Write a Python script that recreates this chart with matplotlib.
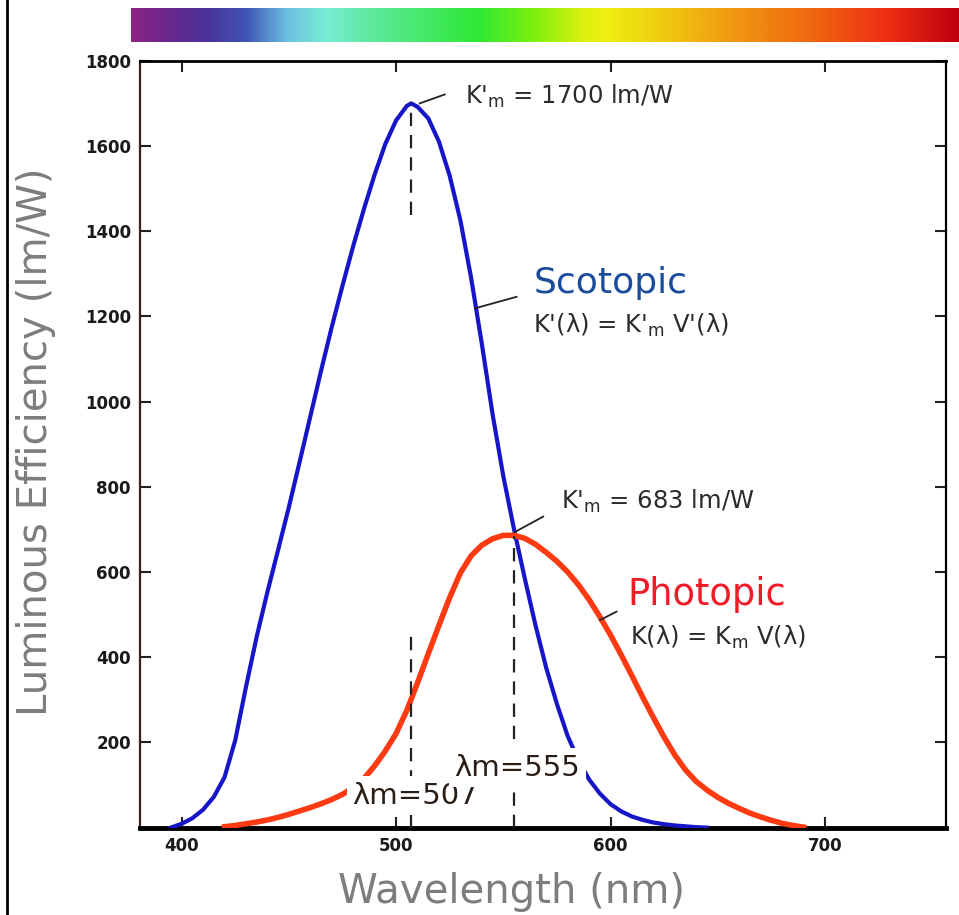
import numpy as np
import matplotlib
matplotlib.use("Agg")
import matplotlib.pyplot as plt
from matplotlib.colors import LinearSegmentedColormap
from matplotlib.lines import Line2D

# scotopic curve K'(lambda) (nm, lm/W)
scotopic_nm = [395, 400, 405, 410, 415, 420, 425, 430, 435, 440, 445, 450, 455, 460,
               465, 470, 475, 480, 485, 490, 495, 500, 505, 507, 510, 515, 520, 525,
               530, 535, 540, 545, 550, 555, 560, 565, 570, 575, 580, 585, 590, 595,
               600, 605, 610, 615, 620, 625, 630, 635, 640, 645]
scotopic_eff = [0, 9, 22, 42, 72, 118, 205, 330, 448, 553, 652, 752, 858, 965,
                1072, 1175, 1272, 1365, 1452, 1533, 1605, 1660, 1694, 1700, 1692, 1665, 1610, 1530,
                1425, 1290, 1135, 970, 825, 700, 585, 475, 375, 290, 215, 158, 113, 80,
                55, 38, 26, 18, 12, 8, 5, 3, 1, 0]

# photopic curve K(lambda)
photopic_nm = [420, 425, 430, 435, 440, 445, 450, 455, 460, 465, 470, 475, 480, 485,
               490, 495, 500, 505, 510, 515, 520, 525, 530, 535, 540, 545, 550, 555,
               560, 565, 570, 575, 580, 585, 590, 595, 600, 605, 610, 615, 620, 625,
               630, 635, 640, 645, 650, 655, 660, 665, 670, 675, 680, 685, 690]
photopic_eff = [2, 5, 9, 13, 18, 24, 31, 39, 47, 56, 66, 78, 94, 115,
                145, 180, 221, 275, 340, 408, 475, 540, 598, 638, 663, 678, 686, 686,
                679, 665, 646, 625, 600, 570, 535, 495, 452, 405, 356, 306, 258, 212,
                170, 135, 108, 88, 71, 57, 45, 34, 25, 17, 10, 5, 1]

x_ticks = [400, 500, 600, 700]
y_ticks = [200, 400, 600, 800, 1000, 1200, 1400, 1600, 1800]

peak_scotopic = 507
peak_photopic = 555
km_scotopic = 1700
km_photopic = 683

# spectrum strip at the top
strip_pos = [0.0, 0.086, 0.138, 0.188, 0.234, 0.286, 0.418, 0.484, 0.544,
             0.573, 0.648, 0.728, 0.817, 0.913, 1.0]
strip_colors = ['#8b2384', '#4b2f96', '#3f55b5', '#6cc0e0', '#78edd5', '#60e8a0',
                '#2ee836', '#7af00e', '#d8f010', '#eef010', '#f0c810', '#f09812',
                '#f06a10', '#ee3015', '#c0000e']

blue = '#1616c8'
red = '#fd3a12'
ink = '#222222'
grey = '#7d7d7d'

W, H = 959, 915
fig = plt.figure(figsize=(W / 100, H / 100), dpi=100)

# spectrum bar
cax = fig.add_axes([131 / W, 1 - 42 / H, (W - 131) / W, 34 / H])
cmap = LinearSegmentedColormap.from_list('spec', list(zip(strip_pos, strip_colors)))
cax.imshow(np.linspace(0, 1, 512)[None, :], aspect='auto', cmap=cmap)
cax.axis('off')

ax = fig.add_axes([140 / W, 1 - 827.6 / H, 806 / W, 766.8 / H])
ax.set_xlim(380.6, 756.4)
ax.set_ylim(0, 1800)

ax.plot(scotopic_nm, scotopic_eff, color=blue, lw=3.0, solid_joinstyle='round', zorder=3)
ax.plot(photopic_nm, photopic_eff, color=red, lw=4.0, solid_joinstyle='round', zorder=3)

# dashed markers at the peaks
dash = dict(color=ink, lw=1.6, linestyle=(0, (6, 4)), zorder=4)
ax.plot([peak_scotopic, peak_scotopic], [1437, km_scotopic], **dash)
ax.plot([peak_scotopic, peak_scotopic], [0, 450], **dash)
ax.plot([peak_photopic, peak_photopic], [0, 685], **dash)

# leader lines
lead = dict(color=ink, lw=1.3, zorder=4)
ax.plot([511, 522.7], [1700, 1721], **lead)
ax.plot([536.8, 556.2], [1219, 1246], **lead)
ax.plot([555.4, 568.6], [694, 730], **lead)
ax.plot([595, 602.8], [487, 507], **lead)

txt = dict(color='#2b2b2b', fontsize=17.5, va='baseline', ha='left', zorder=5)
ax.text(532, 1700, "K'$_\\mathregular{m}$ = %d lm/W" % km_scotopic, **txt)
ax.text(564, 1254, 'Scotopic', color='#1b4b9b', fontsize=26, va='baseline', ha='left')
ax.text(564, 1161, "K'(λ) = K'$_\\mathregular{m}$ V'(λ)", **txt)
ax.text(577, 748, "K'$_\\mathregular{m}$ = %d lm/W" % km_photopic, **txt)
ax.text(608, 522, 'Photopic', color='#f21a26', fontsize=26.5, va='baseline', ha='left')
ax.text(609, 428, 'K(λ) = K$_\\mathregular{m}$ V(λ)', **txt)

box = dict(facecolor='white', edgecolor='none', pad=4)
ax.text(508.9, 75, 'λm=%d' % peak_scotopic, fontsize=21, color='#2a1d15',
        ha='center', va='center', bbox=box, zorder=10)
ax.text(556.5, 141, 'λm=%d' % peak_photopic, fontsize=21, color='#2a1d15',
        ha='center', va='center', bbox=box, zorder=10)

ax.set_xticks(x_ticks)
ax.set_yticks(y_ticks)
ax.tick_params(direction='in', length=8, width=1.5, top=True, right=True,
               labelsize=12, labelcolor='#1a1a1a', color=ink)
ax.tick_params(axis='y', pad=6.5)
ax.tick_params(axis='x', pad=7)
for lab in ax.get_xticklabels() + ax.get_yticklabels():
    lab.set_fontweight('bold')

ax.spines['left'].set_linewidth(1.6)
ax.spines['left'].set_color('#3b1f1a')
ax.spines['right'].set_linewidth(1.6)
ax.spines['top'].set_linewidth(2.0)
ax.spines['bottom'].set_linewidth(3.5)

fig.text(512 / W, 1 - 903 / H, 'Wavelength (nm)', color=grey, fontsize=29,
         ha='center', va='baseline')
fig.text(47 / W, 1 - 442 / H, 'Luminous Efficiency (lm/W)', color=grey, fontsize=29,
         rotation=90, rotation_mode='anchor', ha='center', va='baseline')

# page border on the left
fig.add_artist(Line2D([7 / W, 7 / W], [0, 1], transform=fig.transFigure,
                      color='black', lw=2))

fig.savefig('out.png', dpi=100)
